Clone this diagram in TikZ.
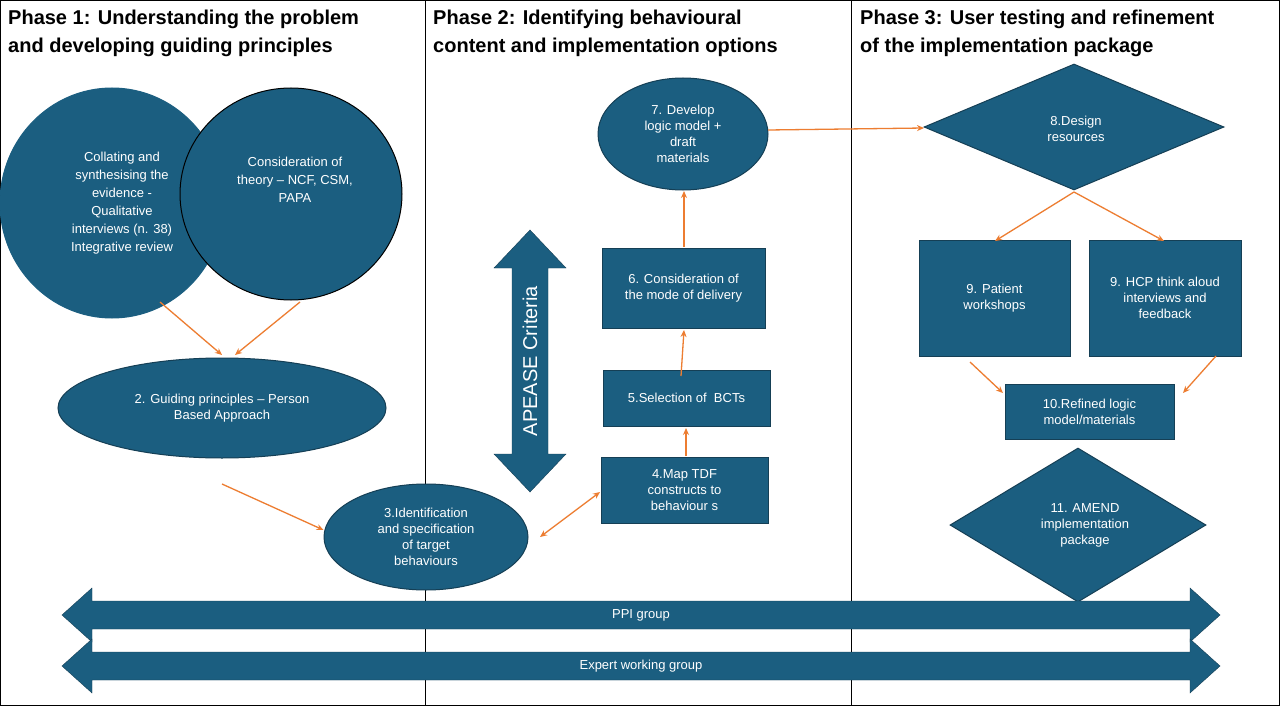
\documentclass[tikz,border=0pt]{standalone}
\usepackage{fontspec}
\setmainfont{Liberation Sans}
\usetikzlibrary{shapes.geometric,arrows.meta}
\definecolor{tealf}{HTML}{1B5E80}
\definecolor{teale}{HTML}{153F55}
\definecolor{orng}{HTML}{ED7D31}
\begin{document}
\begin{tikzpicture}[x=1pt,y=-1pt,
  shp/.style={fill=tealf,draw=teale,line width=1pt,text=white,align=center,font=\fontsize{13}{16}\selectfont,inner sep=0pt},
  el/.style={shp,ellipse},
  bx/.style={shp,rectangle},
  dm/.style={shp,diamond},
  oa/.style={draw=orng,line width=1.3pt,-{Stealth[length=7pt,width=6pt]}},
  ttl/.style={anchor=north west,align=left,font=\bfseries\fontsize{20}{28}\selectfont,inner sep=0pt}]
\useasboundingbox (0,0) rectangle (1280,706);
\fill[white] (0,0) rectangle (1280,706);
\draw[line width=0.8pt] (0.5,0.5) rectangle (1279.5,705.5);
\draw[line width=0.8pt] (425,0) -- (425,706) (851,0) -- (851,706);
\node[ttl] (t1) at (8,10) {Phase 1: Understanding the problem\\and developing guiding principles};
\node[ttl] (t2) at (433,10) {Phase 2: Identifying behavioural\\content and implementation options};
\node[ttl] (t3) at (860,10) {Phase 3: User testing and refinement\\of the implementation package};
% phase 1
\node[el,minimum width=224pt,minimum height=230pt,draw=tealf] (c1) at (112,203) {};
\node[text=white,align=center,font=\fontsize{13}{18}\selectfont] (c1t) at (122,203) {Collating and\\synthesising the\\evidence -\\Qualitative\\interviews (n. 38)\\Integrative review};
\node[el,draw=black,minimum width=222pt,minimum height=212pt] (c2) at (291,194) {};
\node[text=white,align=center,font=\fontsize{13}{18}\selectfont] (c2t) at (295,180) {Consideration of\\theory – NCF, CSM,\\PAPA};
\coordinate (a1s) at (160,302); \coordinate (a1e) at (222,355);
\coordinate (a2s) at (300,302); \coordinate (a2e) at (235,355);
\draw[oa] (a1s) -- (a1e); \draw[oa] (a2s) -- (a2e);
\node[el,minimum width=328pt,minimum height=100pt] (e2) at (222,408) {2. Guiding principles – Person\\Based Approach};
\node[el,minimum width=204pt,minimum height=106pt] (e3) at (426,537) {3.Identification\\and specification\\of target\\behaviours};
\coordinate (a3s) at (222,484);
\draw[oa] (a3s) -- (e3.west|-0,530);
% phase 2
\node[bx,minimum width=167pt,minimum height=66pt] (b4) at (684.5,490) {4.Map TDF\\constructs to\\behaviour s};
\node[bx,minimum width=167pt,minimum height=56pt] (b5) at (686.5,398) {5.Selection of\ \ BCTs};
\node[bx,minimum width=163pt,minimum height=80pt] (b6) at (683.5,288) {6. Consideration of\\the mode of delivery};
\node[el,minimum width=170pt,minimum height=112pt] (e7) at (683,134) {7. Develop\\logic model +\\draft\\materials};
\coordinate (d3) at (540,537); \coordinate (d4) at (600,492);
\draw[draw=orng,line width=1.3pt,{Stealth[length=7pt,width=6pt]}-{Stealth[length=7pt,width=6pt]}] (d3) -- (d4);
\draw[oa] (686,456) -- (686,428);
\draw[oa] (681,376) -- (684,330);
\draw[oa] (684,247) -- (684,191);
\coordinate (a7e) at (924,128);
\draw[oa] (768,130) -- (a7e);
% APEASE
\fill[tealf,draw=teale] (530,230) -- (566,268) -- (548,268) -- (548,454) -- (566,454) -- (530,492) -- (494,454) -- (512,454) -- (512,268) -- (494,268) -- cycle;
\node[rotate=90,text=white,font=\fontsize{20}{24}\selectfont] (ap) at (530,361) {APEASE Criteria};
% phase 3
\node[dm,minimum width=300pt,minimum height=126pt,aspect=2.4] (d8) at (1074,127) {};
\node[text=white,align=center,font=\fontsize{13}{16}\selectfont] (d8t) at (1076,129) {8.Design\\resources};
\node[bx,minimum width=151pt,minimum height=116pt] (b9a) at (994.5,298) {9. Patient\\workshops};
\node[bx,minimum width=152pt,minimum height=116pt] (b9b) at (1165,298) {9. HCP think aloud\\interviews and\\feedback};
\node[bx,minimum width=169pt,minimum height=55pt] (b10) at (1089.5,412) {10.Refined logic\\model/materials};
\node[dm,minimum width=256pt,minimum height=154pt,aspect=1.66] (d11) at (1078,525) {};
\node[text=white,align=center,font=\fontsize{13}{16}\selectfont] (d11t) at (1085,525) {11. AMEND\\implementation\\package};
\coordinate (p8) at (1074,192);
\draw[oa] (p8) -- (995,241); \draw[oa] (p8) -- (1164,241);
\draw[oa] (970,362) -- (1003,393); \draw[oa] (1216,356) -- (1183,393);
% bottom arrows
\foreach \yc/\lab/\nm in {615/PPI group/ppi,666/Expert working group/ewg}{
  \fill[tealf,draw=teale] (62,\yc) -- (92,\yc-27) -- (92,\yc-14) -- (1190,\yc-14) -- (1190,\yc-27) -- (1220,\yc) -- (1190,\yc+27) -- (1190,\yc+14) -- (92,\yc+14) -- (92,\yc+27) -- cycle;
  \node[text=white,font=\fontsize{13}{16}\selectfont] (\nm) at (641,\yc) {\lab};
}
\end{tikzpicture}
\end{document}
